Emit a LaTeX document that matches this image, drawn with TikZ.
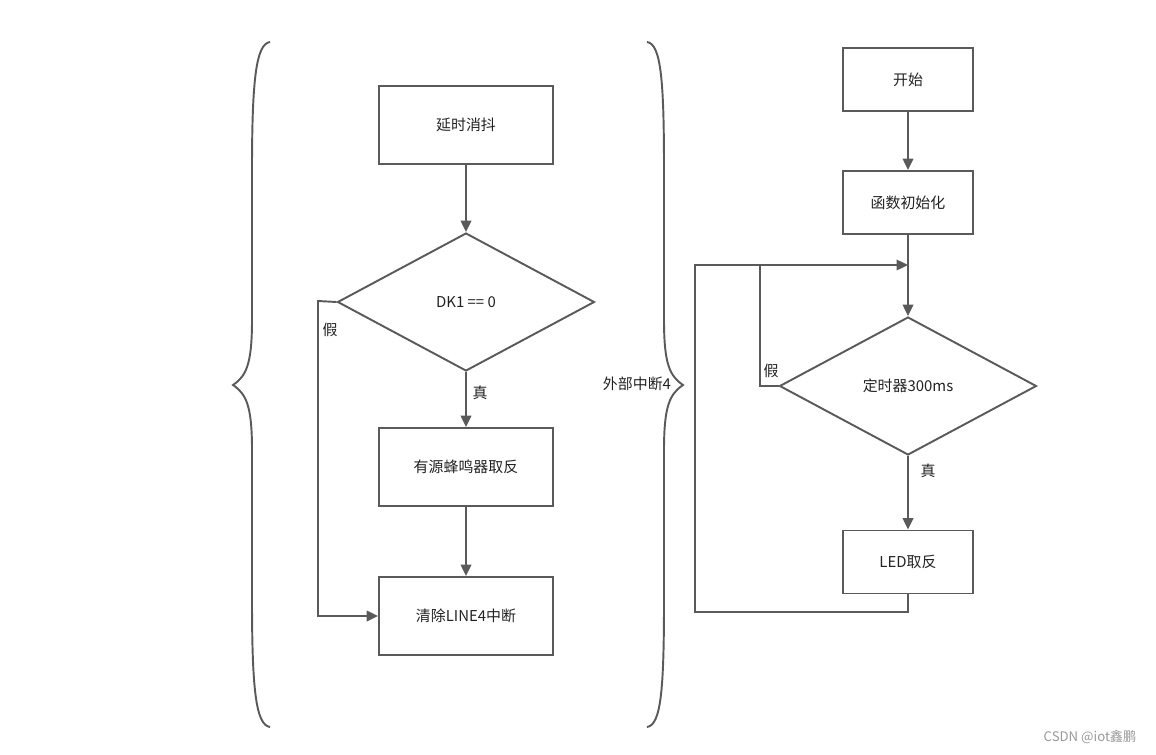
\documentclass[tikz,border=0pt]{standalone}
\usepackage{fontspec}
\setmainfont{Noto Sans CJK SC}
\usetikzlibrary{shapes.geometric,arrows.meta}
\definecolor{linegray}{HTML}{5A5A5A}
\definecolor{textgray}{HTML}{222222}

\begin{document}
\begin{tikzpicture}[x=0.02cm, y=-0.02cm,
    every node/.style={font=\fontsize{8.5}{10}\selectfont, text=textgray},
    procbox/.style={draw=linegray, line width=1.1pt, rectangle, minimum width=3.48cm, minimum height=1.56cm},
    smallbox/.style={draw=linegray, line width=1.1pt, rectangle, minimum width=2.6cm, minimum height=1.26cm},
    decision/.style={draw=linegray, line width=1.1pt, diamond, minimum width=5.14cm, minimum height=2.76cm, inner sep=0pt},
    flow/.style={draw=linegray, line width=1.1pt},
    >={Triangle[length=6.5pt, width=6pt]}]
      \useasboundingbox (0,0) rectangle (1156,754);

      % interrupt routine
      \node[procbox] (debounce) at (466,125) {延时消抖};
      \node[decision] (dk1) at (466,302) {DK1 == 0};
      \node[procbox] (buzzer) at (466,467) {有源蜂鸣器取反};
      \node[procbox] (clearint) at (466,616) {清除LINE4中断};
      \coordinate (nobuzz) at (318,301);
      \draw[flow, ->] (debounce) -- (dk1);
      \draw[flow, ->] (dk1) -- (buzzer);
      \draw[flow, ->] (buzzer) -- (clearint);
      \draw[flow, ->] (dk1.west) -- (nobuzz) |- (clearint);
      \node at (480,393) {真};
      \node at (330,330) {假};

      % braces
      \draw[flow] (270,42) .. controls (256,44) and (252,80) .. (252,170)
        -- (252,320) .. controls (252,365) and (246,376) .. (233,385)
        .. controls (246,394) and (252,405) .. (252,450)
        -- (252,600) .. controls (252,690) and (256,725) .. (270,727);
      \draw[flow] (647,42) .. controls (661,44) and (664,80) .. (664,170)
        -- (664,320) .. controls (664,365) and (670,376) .. (683,385)
        .. controls (670,394) and (664,405) .. (664,450)
        -- (664,600) .. controls (664,690) and (661,725) .. (647,727);
      \node (isrname) at (637,384) {外部中断4};

      % main loop
      \node[smallbox] (start) at (908,79.5) {开始};
      \node[smallbox] (init) at (908,202.5) {函数初始化};
      \node[decision] (timer) at (908,386) {定时器300ms};
      \node[smallbox] (led) at (908,562) {LED取反};
      \coordinate (merge) at (908,265);
      \coordinate (back) at (695,612);
      \coordinate (wait) at (760,265);
      \draw[flow, ->] (start) -- (init);
      \draw[flow, ->] (init) -- (timer);
      \draw[flow, ->] (timer) -- (led);
      \draw[flow, ->] (led) |- (back) |- (merge);
      \draw[flow] (timer.west) -| (wait);
      \node at (928,471) {真};
      \node at (771,371) {假};

      \node[text=gray!80, font=\fontsize{7.5}{9}\selectfont] (mark) at (1090,737) {CSDN @iot鑫鹏};
\end{tikzpicture}
\end{document}
